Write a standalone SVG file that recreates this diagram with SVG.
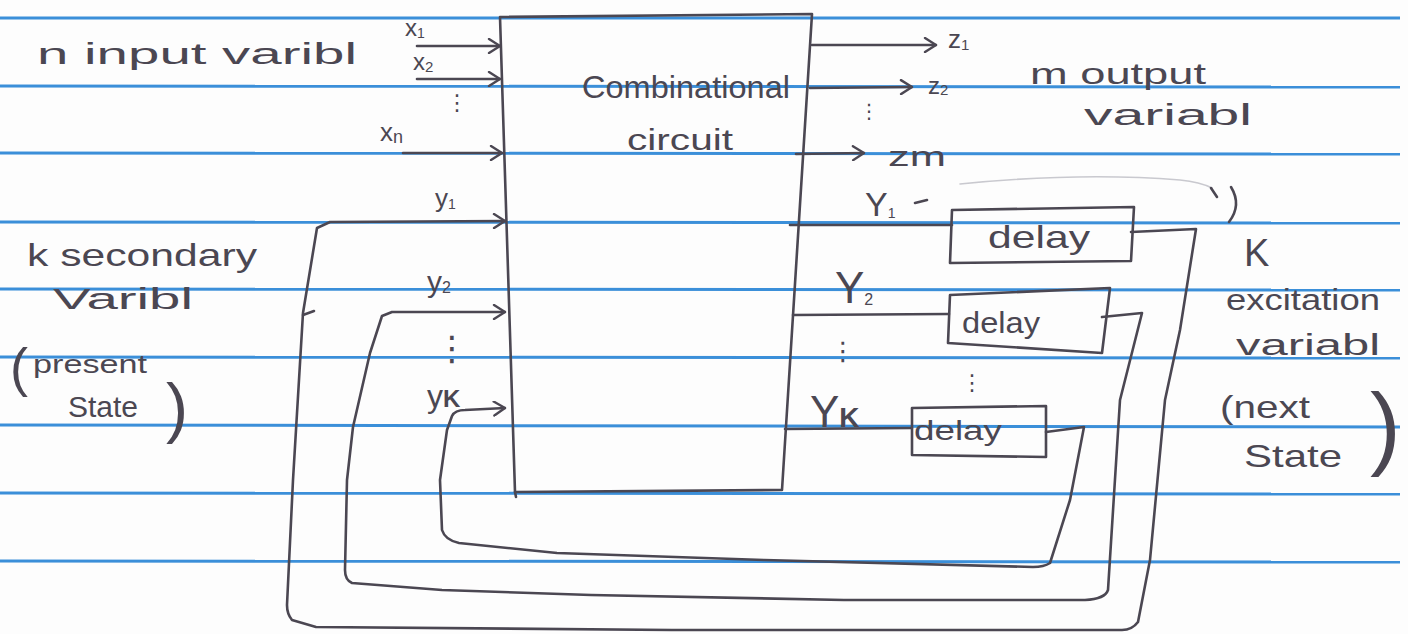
<svg xmlns="http://www.w3.org/2000/svg" width="1408" height="634" viewBox="0 0 1408 634">
  <style>
    .rule { stroke: #3b8fd9; stroke-width: 3; fill: none; }
    .ink { stroke: #4b4752; stroke-width: 2.6; fill: none; stroke-linejoin: round; stroke-linecap: round; }
    .faint { stroke: #c9c9cf; stroke-width: 1.6; fill: none; stroke-linecap: round; }
    .hand { font-family: "Liberation Sans", "DejaVu Sans", sans-serif; fill: #4b4752; }
    .dots { font-family: "DejaVu Sans", sans-serif; fill: #4b4752; }
  </style>
  <defs>
    <marker id="chev" viewBox="0 0 14 16" refX="13" refY="8" markerWidth="14" markerHeight="16" markerUnits="userSpaceOnUse" orient="auto">
      <path d="M2,1 L13,8 L2,15" fill="none" stroke="#4b4752" stroke-width="2.4" stroke-linecap="round" stroke-linejoin="round"/>
    </marker>
  </defs>

  <!-- paper -->
  <rect x="0" y="0" width="1408" height="634" fill="#fdfdfd"/>
  <g id="ruling">
    <line class="rule" x1="0" y1="18" x2="1400" y2="18"/>
    <line class="rule" x1="0" y1="86" x2="1400" y2="87"/>
    <line class="rule" x1="0" y1="153" x2="1400" y2="154"/>
    <line class="rule" x1="0" y1="222" x2="1400" y2="223"/>
    <line class="rule" x1="0" y1="289" x2="1400" y2="290"/>
    <line class="rule" x1="0" y1="357" x2="1400" y2="358"/>
    <line class="rule" x1="0" y1="425" x2="1400" y2="427"/>
    <line class="rule" x1="0" y1="493" x2="1400" y2="494"/>
    <line class="rule" x1="0" y1="561" x2="1400" y2="562"/>
  </g>

  <!-- combinational circuit block -->
  <g id="combinational-circuit">
    <path class="ink" d="M500,17 L812,14 L782,490 L515,492 Z"/>
    <path class="ink" d="M515,492 L516,497"/>
    <text class="hand" x="582" y="98" font-size="32" textLength="208" lengthAdjust="spacingAndGlyphs">Combinational</text>
    <text class="hand" x="627" y="150" font-size="30" textLength="106" lengthAdjust="spacingAndGlyphs">circuit</text>
  </g>

  <!-- delay elements -->
  <g id="delay-1">
    <path class="ink" d="M952,210 L1134,207 L1131,261 L950,263 Z"/>
    <text class="hand" x="988" y="248" font-size="32" textLength="102" lengthAdjust="spacingAndGlyphs">delay</text>
  </g>
  <g id="delay-2">
    <path class="ink" d="M950,295 L1110,288 L1102,353 L948,343 Z"/>
    <text class="hand" x="962" y="333" font-size="30" textLength="78" lengthAdjust="spacingAndGlyphs">delay</text>
  </g>
  <g id="delay-k">
    <path class="ink" d="M912,408 L1046,406 L1046,457 L912,455 Z"/>
    <text class="hand" x="914" y="440" font-size="28" textLength="88" lengthAdjust="spacingAndGlyphs">delay</text>
  </g>

  <!-- wires -->
  <g id="connectors">
    <!-- primary inputs -->
    <path class="ink" d="M417,46 L500,46" marker-end="url(#chev)"/>
    <path class="ink" d="M417,79 L500,79" marker-end="url(#chev)"/>
    <path class="ink" d="M403,153 L502,153" marker-end="url(#chev)"/>
    <!-- primary outputs -->
    <path class="ink" d="M812,45 L936,45" marker-end="url(#chev)"/>
    <path class="ink" d="M810,88 L912,87" marker-end="url(#chev)"/>
    <path class="ink" d="M796,154 L864,153" marker-end="url(#chev)"/>
    <!-- excitation lines into delays -->
    <path class="ink" d="M790,225 L952,225"/>
    <path class="ink" d="M793,315 L949,314"/>
    <path class="ink" d="M785,429 L912,428"/>
    <!-- feedback: delay 1 -> y1 -->
    <path class="ink" d="M1131,232 L1196,229 L1180,330 L1165,400 L1150,560 L1138,622 Q1132,630 1122,630 L672,630 L316,627 L292,620 Q287,614 287,605 L293,480 L303,313 L317,228 L330,222 L505,221" marker-end="url(#chev)"/>
    <path class="ink" d="M303,315 L314,311"/>
    <!-- feedback: delay 2 -> y2 -->
    <path class="ink" d="M1102,317 L1142,313 L1120,400 L1108,590 Q1105,599 1085,600 L844,600 L591,595 L442,590 L352,583 Q345,580 345,570 L347,480 L353,427 L370,353 L382,316 L392,312 L505,312" marker-end="url(#chev)"/>
    <!-- feedback: delay k -> yk -->
    <path class="ink" d="M1046,432 L1084,427 L1070,500 L1050,563 Q1044,567 1033,567 L764,560 L557,553 L459,543 Q445,540 442,530 L440,480 L447,430 L452,416 Q455,410 465,410 L505,408" marker-end="url(#chev)"/>
  </g>

  <!-- bracket over the delay row -->
  <g id="bracket">
    <path class="faint" d="M960,184 Q1080,172 1180,180 Q1200,182 1212,188"/>
    <path class="ink" d="M1211,188 L1217,197"/>
    <path class="ink" d="M1231,187 Q1242,205 1229,222"/>
    <path class="ink" d="M915,203 L927,200"/>
  </g>

  <!-- input side labels -->
  <g id="input-labels">
    <text class="hand" x="37" y="64" font-size="30" textLength="320" lengthAdjust="spacingAndGlyphs">n input varibl</text>
    <text class="hand" x="405" y="36" font-size="24">x<tspan font-size="14" dy="2">1</tspan></text>
    <text class="hand" x="413" y="70" font-size="24">x<tspan font-size="15" dy="2">2</tspan></text>
    <text class="dots" x="446" y="110" font-size="22">⋮</text>
    <text class="hand" x="380" y="141" font-size="26">x<tspan font-size="18" dy="2">n</tspan></text>
    <text class="hand" x="435" y="207" font-size="26">y<tspan font-size="14" dy="2">1</tspan></text>
    <text class="hand" x="427" y="292" font-size="30">y<tspan font-size="16" dy="1">2</tspan></text>
    <text class="dots" x="435" y="360" font-size="34">⋮</text>
    <text class="hand" x="427" y="407" font-size="32">y<tspan font-size="24" font-weight="bold">K</tspan></text>
  </g>

  <g id="secondary-labels">
    <text class="hand" x="27" y="266" font-size="32" textLength="230" lengthAdjust="spacingAndGlyphs">k secondary</text>
    <text class="hand" x="53" y="309" font-size="30" textLength="140" lengthAdjust="spacingAndGlyphs">Varibl</text>
    <text class="hand" x="10" y="386" font-size="54">(<tspan x="33" y="373" font-size="26" textLength="114" lengthAdjust="spacingAndGlyphs">present</tspan></text>
    <text class="hand" x="68" y="417" font-size="30">State<tspan x="166" y="430" font-size="66">)</tspan></text>
  </g>

  <!-- output side labels -->
  <g id="output-labels">
    <text class="hand" x="948" y="48" font-size="26">z<tspan font-size="15" dy="2">1</tspan></text>
    <text class="hand" x="928" y="94" font-size="24">z<tspan font-size="15" dy="1">2</tspan></text>
    <text class="dots" x="859" y="118" font-size="20">⋮</text>
    <text class="hand" x="888" y="166" font-size="28" textLength="58" lengthAdjust="spacingAndGlyphs">zm</text>
    <text class="hand" x="1030" y="84" font-size="30" textLength="176" lengthAdjust="spacingAndGlyphs">m output</text>
    <text class="hand" x="1084" y="125" font-size="30" textLength="168" lengthAdjust="spacingAndGlyphs">variabl</text>
  </g>

  <g id="excitation-labels">
    <text class="hand" x="865" y="216" font-size="34">Y<tspan font-size="14" dy="2">1</tspan></text>
    <text class="hand" x="835" y="303" font-size="44">Y<tspan font-size="16" dy="2">2</tspan></text>
    <text class="dots" x="830" y="360" font-size="26">⋮</text>
    <text class="hand" x="810" y="427" font-size="44">Y<tspan font-size="28" font-weight="bold">K</tspan></text>
    <text class="dots" x="961" y="390" font-size="22">⋮</text>
    <text class="hand" x="1244" y="266" font-size="38">K</text>
    <text class="hand" x="1226" y="310" font-size="30" textLength="154" lengthAdjust="spacingAndGlyphs">excitation</text>
    <text class="hand" x="1236" y="355" font-size="30" textLength="144" lengthAdjust="spacingAndGlyphs">variabl</text>
    <text class="hand" x="1220" y="418" font-size="32" textLength="90" lengthAdjust="spacingAndGlyphs">(next</text>
    <text class="hand" x="1244" y="467" font-size="32" textLength="98" lengthAdjust="spacingAndGlyphs">State</text>
    <text class="hand" x="1370" y="458" font-size="92">)</text>
  </g>
</svg>
